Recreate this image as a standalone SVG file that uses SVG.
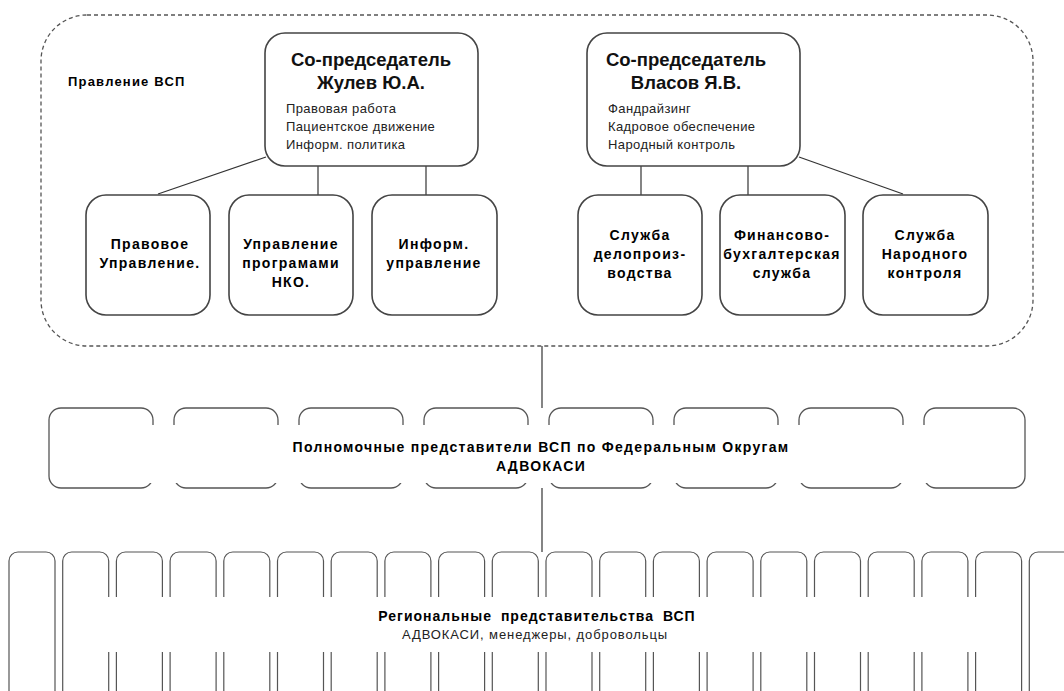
<svg xmlns="http://www.w3.org/2000/svg" width="1064" height="691" viewBox="0 0 1064 691">
<style>
  text { font-family: "Liberation Sans", Arial, sans-serif; fill: #000; }
  .title { font-size: 18.5px; font-weight: bold; text-anchor: middle; fill: #111; }
  .small { font-size: 13px; fill: #222; letter-spacing: 0.4px; }
  .bold { font-size: 14px; font-weight: bold; text-anchor: middle; letter-spacing: 1.3px; }
  .box { fill: #fff; stroke: #444; stroke-width: 1.6; }
  .fbox { fill: #fff; stroke: #555; stroke-width: 1.3; }
  .rbox { fill: #fff; stroke: #555; stroke-width: 1.2; }
  .cover { fill: #fff; stroke: none; }
  .conn { stroke: #333; stroke-width: 1.2; fill: none; }
</style>
<rect width="1064" height="691" fill="#fff"/>

<g id="board">
  <rect x="41" y="15" width="992" height="331" rx="46" fill="none" stroke="#555" stroke-width="1.3" stroke-dasharray="4 3"/>
  <text x="68" y="86" style="font-size:13px;font-weight:bold;letter-spacing:1.2px">Правление ВСП</text>
</g>

<g id="connectors">
  <line class="conn" x1="266" y1="157" x2="158" y2="194"/>
  <line class="conn" x1="318" y1="166" x2="318" y2="195"/>
  <line class="conn" x1="426" y1="166" x2="426" y2="195"/>
  <line class="conn" x1="641" y1="166" x2="641" y2="195"/>
  <line class="conn" x1="748" y1="166" x2="748" y2="195"/>
  <line class="conn" x1="799" y1="157" x2="903" y2="194"/>
  <line class="conn" x1="542" y1="346" x2="542" y2="408"/>
  <line class="conn" x1="542" y1="488" x2="542" y2="552"/>
</g>

<g id="cochair1">
  <rect class="box" x="265" y="33" width="213" height="133" rx="20"/>
  <text class="title" x="371" y="66">Со-председатель</text>
  <text class="title" x="371" y="89">Жулев Ю.А.</text>
  <text class="small" x="286" y="113">Правовая работа</text>
  <text class="small" x="286" y="131">Пациентское движение</text>
  <text class="small" x="286" y="149">Информ. политика</text>
</g>

<g id="cochair2">
  <rect class="box" x="587" y="33" width="213" height="133" rx="20"/>
  <text class="title" x="686" y="66">Со-председатель</text>
  <text class="title" x="686" y="89">Власов Я.В.</text>
  <text class="small" x="608" y="113">Фандрайзинг</text>
  <text class="small" x="608" y="131">Кадровое обеспечение</text>
  <text class="small" x="608" y="149">Народный контроль</text>
</g>

<g id="legal">
  <rect class="box" x="86" y="195" width="124" height="120" rx="20"/>
  <text class="bold" x="150" y="249">Правовое</text>
  <text class="bold" x="150" y="268">Управление.</text>
</g>
<g id="programs">
  <rect class="box" x="229" y="195" width="124" height="120" rx="20"/>
  <text class="bold" x="291" y="249">Управление</text>
  <text class="bold" x="291" y="268">програмами</text>
  <text class="bold" x="291" y="287">НКО.</text>
</g>
<g id="info">
  <rect class="box" x="372" y="195" width="125" height="120" rx="20"/>
  <text class="bold" x="434" y="249">Информ.</text>
  <text class="bold" x="434" y="268">управление</text>
</g>
<g id="office">
  <rect class="box" x="578" y="195" width="124" height="120" rx="20"/>
  <text class="bold" x="640" y="240">Служба</text>
  <text class="bold" x="640" y="259">делопроиз-</text>
  <text class="bold" x="640" y="278">водства</text>
</g>
<g id="finance">
  <rect class="box" x="720" y="195" width="125" height="120" rx="20"/>
  <text class="bold" x="782" y="240">Финансово-</text>
  <text class="bold" x="782" y="259">бухгалтерская</text>
  <text class="bold" x="782" y="278">служба</text>
</g>
<g id="control">
  <rect class="box" x="863" y="195" width="125" height="120" rx="20"/>
  <text class="bold" x="925" y="240">Служба</text>
  <text class="bold" x="925" y="259">Народного</text>
  <text class="bold" x="925" y="278">контроля</text>
</g>

<g id="federal">
  <rect class="fbox" x="49" y="408" width="104" height="80" rx="12"/>
  <rect class="fbox" x="174" y="408" width="104" height="80" rx="12"/>
  <rect class="fbox" x="299" y="408" width="104" height="80" rx="12"/>
  <rect class="fbox" x="424" y="408" width="104" height="80" rx="12"/>
  <rect class="fbox" x="549" y="408" width="104" height="80" rx="12"/>
  <rect class="fbox" x="674" y="408" width="104" height="80" rx="12"/>
  <rect class="fbox" x="799" y="408" width="104" height="80" rx="12"/>
  <rect class="fbox" x="924" y="408" width="101" height="80" rx="12"/>
  <rect class="cover" x="148" y="425" width="781" height="58"/>
  <text class="bold" x="541" y="452">Полномочные представители ВСП по Федеральным Округам</text>
  <text class="bold" x="541" y="471">АДВОКАСИ</text>
</g>

<g id="regional">
  <rect class="rbox" x="9" y="552" width="46" height="170" rx="9"/>
  <rect class="rbox" x="62.7" y="552" width="46" height="170" rx="9"/>
  <rect class="rbox" x="116.4" y="552" width="46" height="170" rx="9"/>
  <rect class="rbox" x="170.1" y="552" width="46" height="170" rx="9"/>
  <rect class="rbox" x="223.8" y="552" width="46" height="170" rx="9"/>
  <rect class="rbox" x="277.5" y="552" width="46" height="170" rx="9"/>
  <rect class="rbox" x="331.2" y="552" width="46" height="170" rx="9"/>
  <rect class="rbox" x="384.9" y="552" width="46" height="170" rx="9"/>
  <rect class="rbox" x="438.6" y="552" width="46" height="170" rx="9"/>
  <rect class="rbox" x="492.3" y="552" width="46" height="170" rx="9"/>
  <rect class="rbox" x="546" y="552" width="46" height="170" rx="9"/>
  <rect class="rbox" x="599.7" y="552" width="46" height="170" rx="9"/>
  <rect class="rbox" x="653.4" y="552" width="46" height="170" rx="9"/>
  <rect class="rbox" x="707.1" y="552" width="46" height="170" rx="9"/>
  <rect class="rbox" x="760.8" y="552" width="46" height="170" rx="9"/>
  <rect class="rbox" x="814.5" y="552" width="46" height="170" rx="9"/>
  <rect class="rbox" x="868.2" y="552" width="46" height="170" rx="9"/>
  <rect class="rbox" x="921.9" y="552" width="46" height="170" rx="9"/>
  <rect class="rbox" x="975.6" y="552" width="46" height="170" rx="9"/>
  <rect class="rbox" x="1029.3" y="552" width="46" height="170" rx="9"/>
  <rect class="cover" x="70" y="597" width="945" height="55"/>
  <text class="bold" x="537" y="621" style="letter-spacing:1px;word-spacing:4px">Региональные представительства ВСП</text>
  <text x="535" y="639" style="font-size:13px;text-anchor:middle;fill:#222;letter-spacing:0.9px">АДВОКАСИ, менеджеры, добровольцы</text>
</g>
</svg>
